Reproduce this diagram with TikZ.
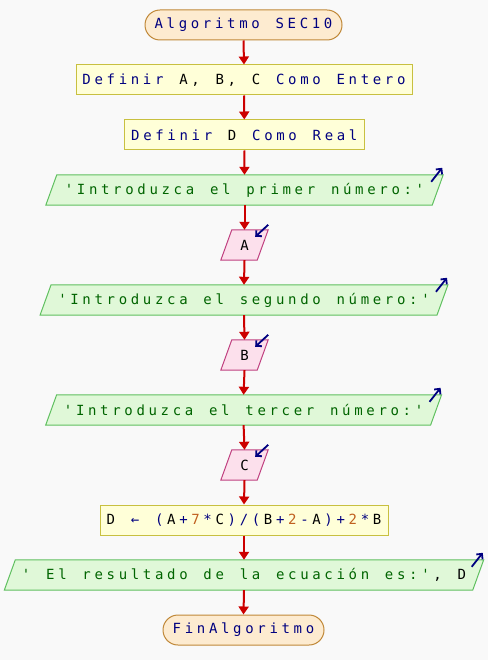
\documentclass[tikz,border=0pt]{standalone}
\usepackage{fontspec}
\newfontfamily\codefont{DejaVu Sans Mono}
\usetikzlibrary{arrows.meta,calc}
\pgfdeclarelayer{back}\pgfdeclarelayer{bg}\pgfsetlayers{back,bg,main}
\definecolor{bgc}{HTML}{F9F9F9}
\definecolor{navy}{HTML}{000080}
\definecolor{termfill}{HTML}{FDEBD0}
\definecolor{termline}{HTML}{C08838}
\definecolor{procfill}{HTML}{FFFFD8}
\definecolor{procline}{HTML}{C8C040}
\definecolor{outfill}{HTML}{E0F8D8}
\definecolor{outline}{HTML}{60C060}
\definecolor{outtext}{HTML}{006400}
\definecolor{infill}{HTML}{FCE0EC}
\definecolor{inline}{HTML}{C04080}
\definecolor{flowred}{HTML}{CC0000}
\definecolor{numc}{HTML}{C06020}
\newcommand\nv{\color{navy}}
\newcommand\nm{\color{numc}}
\newcommand\nb{\color{black}}
\newlength\monoadv
\setlength\monoadv{12.1pt}
\ExplSyntaxOn
\cs_new_protected:Npn \mono #1
  {
    \tl_map_inline:nn {#1}
      { \token_if_cs:NTF ##1 { ##1 } { \makebox[\monoadv][c]{##1} } }
  }
\ExplSyntaxOff
\newcommand\slantbox[3]{%
  \begin{pgfonlayer}{bg}
  \filldraw[fill=#2,draw=#3,line width=1]
    ($(#1.south west)+(-5.5,0)$) -- ($(#1.south east)+(-5.5,0)$) --
    ($(#1.north east)+(5.5,0)$) -- ($(#1.north west)+(5.5,0)$) -- cycle;
  \end{pgfonlayer}}
\begin{document}
\begin{tikzpicture}[x=1pt,y=-1pt,
  base/.style={font=\codefont\fontsize{14}{16}\selectfont, inner sep=0pt, minimum height=30, text=navy},
  term/.style={base, draw=termline, fill=termfill, rounded corners=15, line width=1},
  proc/.style={base, draw=procline, fill=procfill, line width=1},
  outbox/.style={base, text=outtext},
  inbox/.style={base, text=black},
  flow/.style={draw=flowred, line width=2, -{Triangle[length=8,width=10]}},
  icon/.style={draw=navy, line width=1.8, -{Straight Barb[length=4,width=8]}}]
\begin{pgfonlayer}{back}
\fill[bgc] (0,0) rectangle (488,660);
\end{pgfonlayer}
\useasboundingbox (0,0) rectangle (488,660);

\node[term, minimum width=197] (start) at (243.5,25) {\mono{Algoritmo~SEC10}};
\node[proc, minimum width=336] (def1) at (244,80) {\mono{Definir~\nb A,~B,~C~\nv Como~Entero}};
\node[proc, minimum width=240] (def2) at (244.3,135) {\mono{Definir~\nb D\nv ~Como~Real}};
\node[outbox, minimum width=386] (out1) at (244.5,190) {\mono{'Introduzca~el~primer~número:'}};
\node[inbox, minimum width=36] (inA) at (244.5,245) {\mono{A}};
\node[outbox, minimum width=396.5] (out2) at (244,300) {\mono{'Introduzca~el~segundo~número:'}};
\node[inbox, minimum width=36] (inB) at (244.5,355) {\mono{B}};
\node[outbox, minimum width=384.5] (out3) at (243.6,410) {\mono{'Introduzca~el~tercer~número:'}};
\node[inbox, minimum width=36] (inC) at (244.5,465) {\mono{C}};
\node[proc, minimum width=288, text=black] (asg) at (244,520) {\mono{D~\nv ←~(\nb A\nv +\nm 7\nv *\nb C\nv )/(\nb B\nv +\nm 2\nv -\nb A\nv )+\nm 2\nv *\nb B}};
\node[outbox, minimum width=468] (outF) at (244,575) {\mono{'~El~resultado~de~la~ecuación~es:'\nb ,~D}};
\node[term, minimum width=161] (fin) at (243.5,630) {\mono{FinAlgoritmo}};

\slantbox{out1}{outfill}{outline}
\slantbox{out2}{outfill}{outline}
\slantbox{out3}{outfill}{outline}
\slantbox{outF}{outfill}{outline}
\slantbox{inA}{infill}{inline}
\slantbox{inB}{infill}{inline}
\slantbox{inC}{infill}{inline}

\foreach \a/\b in {start/def1,def1/def2,def2/out1,out1/inA,inA/out2,out2/inB,inB/out3,out3/inC,inC/asg,asg/outF,outF/fin}
  \draw[flow] (\a.south) -- (\b.north);

\foreach \n in {out1,out2,out3,outF}
  \draw[icon] ($(\n.north east)+(-6.5,7)$) -- ($(\n.north east)+(4.5,-7)$);
\foreach \n in {inA,inB,inC}
  \draw[icon] ($(\n.north east)+(5.5,-5)$) -- ($(\n.north east)+(-7.5,7)$);
\end{tikzpicture}
\end{document}
